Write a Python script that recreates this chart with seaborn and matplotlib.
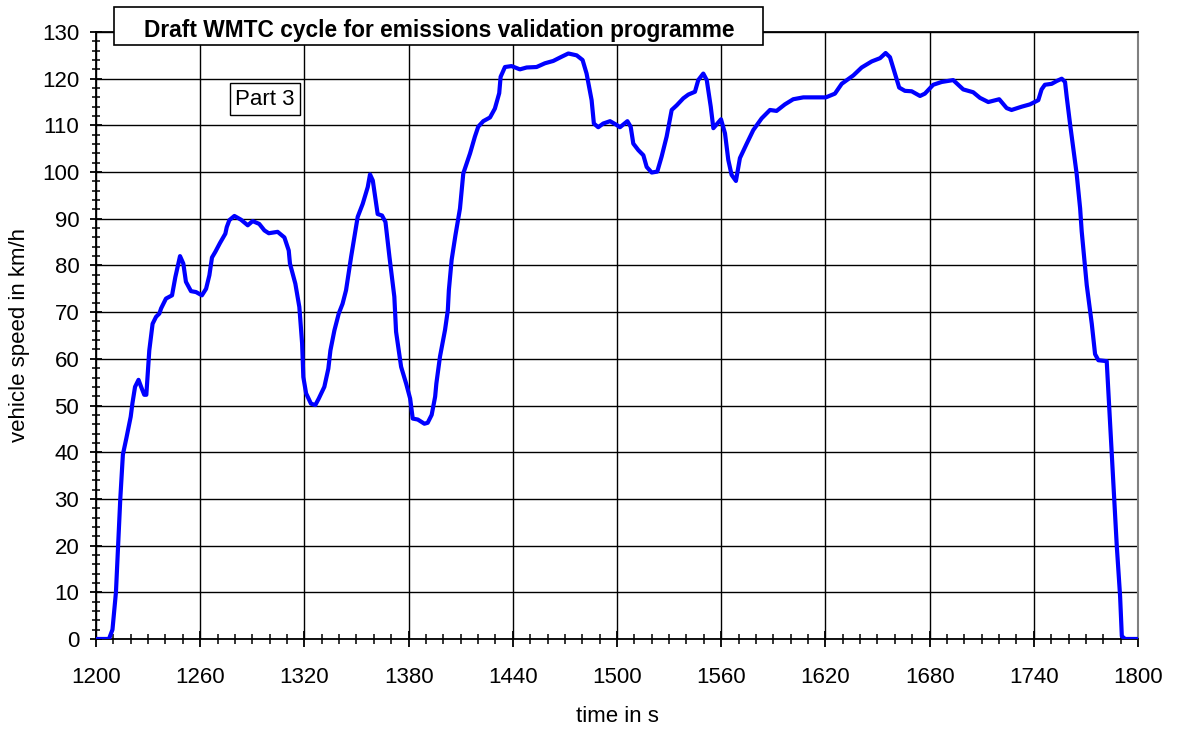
"""
WMTC draft cycle, part 3 - vehicle speed over time.
"""

import matplotlib.pyplot as plt
import matplotlib.patches as mpatches
from matplotlib import font_manager
from matplotlib.ticker import MultipleLocator
import pandas as pd
import seaborn as sns

# ---------------------------------------------------------------------------
# Data
# ---------------------------------------------------------------------------
time_s = [
    1200, 1207.5, 1209.5, 1211.5, 1213, 1214, 1215.5, 1217.5, 1220, 1221,
    1222.5, 1224.5, 1226, 1227.8, 1229, 1230.7, 1232.6, 1234.6, 1236.5, 1237.5,
    1240.3, 1243.8, 1245.7, 1248.4, 1250.3, 1251.8, 1254.7, 1257.6, 1261, 1263.4,
    1265.3, 1266.8, 1268.7, 1271.4, 1274.5, 1275.3, 1276.8, 1279.7, 1283.5, 1287.4,
    1290.2, 1294, 1297, 1299.5, 1304.6, 1308.5, 1311, 1311.7, 1314.8, 1317.1,
    1318.7, 1319.4, 1321, 1323.8, 1326.3, 1328.3, 1331.5, 1333.8, 1335, 1337.3,
    1339.8, 1342, 1344, 1346.9, 1350.7, 1353.6, 1356.5, 1357.8, 1359.4, 1362.2,
    1364.7, 1366.7, 1369, 1371.8, 1372.8, 1375.7, 1378.6, 1380.9, 1382.4, 1385.3,
    1389.1, 1391, 1393.3, 1395.3, 1396, 1398.1, 1401, 1402.6, 1403.2, 1404.8,
    1407, 1409.6, 1411.5, 1415.4, 1418.2, 1420.1, 1423, 1426.9, 1429.7, 1432.2,
    1433, 1435.5, 1439.3, 1444.1, 1448, 1453.7, 1458.5, 1463.3, 1468.1, 1472,
    1476.8, 1480.2, 1482.5, 1485.4, 1486.7, 1489.2, 1492.1, 1496, 1499.8, 1501.7,
    1506, 1507.9, 1509.4, 1512.3, 1515.2, 1517.1, 1520, 1523.2, 1525.7, 1528.6,
    1531.5, 1534.4, 1538.2, 1541.1, 1544.9, 1546.8, 1549.7, 1551.7, 1554, 1555.5,
    1557.8, 1559.9, 1562.2, 1564.1, 1566, 1568.5, 1570.8, 1574.6, 1578.5, 1583.3,
    1588.1, 1591.9, 1596.7, 1601.5, 1607.3, 1614, 1620.3, 1625.5, 1629.4, 1636.1,
    1640.9, 1646.7, 1651.5, 1654.7, 1657.2, 1660.1, 1662.5, 1665.8, 1669.7, 1674.5,
    1677.3, 1682.1, 1687, 1693.6, 1699.4, 1705.1, 1709, 1713.8, 1720.1, 1724.4,
    1727.2, 1733, 1737.8, 1742.6, 1744.5, 1746.4, 1750.3, 1753.2, 1756.1, 1758,
    1759, 1760.9, 1764.7, 1766.7, 1767.6, 1770.5, 1773.4, 1775.3, 1777.2, 1782,
    1784.9, 1787.8, 1789.7, 1790.7, 1792.6, 1800,
]
speed_kmh = [
    0, 0, 2, 10, 22, 30, 39.5, 43, 47.6, 50.5,
    54, 55.5, 54, 52.3, 52.3, 61.8, 67.5, 69, 69.7, 70.8,
    72.9, 73.6, 77.5, 82, 80.4, 76.5, 74.5, 74.3, 73.6, 75,
    77.9, 81.7, 82.9, 84.8, 86.8, 88.2, 89.7, 90.6, 89.8, 88.6,
    89.5, 88.9, 87.5, 86.9, 87.2, 86, 83.2, 80.4, 76.1, 71.1,
    63.3, 56.1, 52.6, 50.4, 50.1, 51.5, 54, 57.9, 61.8, 66.1,
    69.7, 71.8, 74.7, 81.8, 90.4, 93.2, 96.8, 99.5, 98.2, 91,
    90.7, 89.3, 81.8, 73.3, 65.8, 58.3, 54.7, 51.5, 47.2, 47,
    46.1, 46.3, 48, 51.9, 54.7, 60.5, 66.2, 70.4, 74.7, 81.2,
    86.5, 92.2, 99.7, 104, 107.6, 109.7, 110.9, 111.7, 113.6, 116.9,
    120.4, 122.5, 122.7, 122, 122.4, 122.5, 123.3, 123.8, 124.7, 125.4,
    125, 124, 121.1, 115.4, 110.4, 109.6, 110.4, 110.9, 110.1, 109.6,
    110.9, 109.7, 106.1, 104.7, 103.6, 101.1, 99.9, 100.1, 103.3, 107.6,
    113.3, 114.3, 115.8, 116.6, 117.2, 119.7, 121.1, 119.7, 114, 109.4,
    110.4, 111.3, 108.3, 102.6, 99.4, 98.1, 103, 106, 109, 111.5,
    113.3, 113.1, 114.5, 115.6, 116, 116, 116, 116.8, 118.9, 120.7,
    122.4, 123.7, 124.4, 125.5, 124.6, 121, 118.1, 117.4, 117.3, 116.3,
    116.8, 118.7, 119.3, 119.7, 117.7, 117.1, 115.9, 115, 115.6, 113.7,
    113.3, 114, 114.5, 115.4, 117.7, 118.7, 118.9, 119.5, 120, 119.3,
    116, 110.3, 99.6, 92.2, 87.3, 75.8, 67.5, 61, 59.7, 59.5,
    39.6, 19.9, 9.2, 0.6, 0, 0,
]

TITLE = "Draft WMTC cycle for emissions validation programme"
PART_LABEL = "Part 3"

# ---------------------------------------------------------------------------
# Style
# ---------------------------------------------------------------------------
sns.set_theme(style="white")
plt.rcParams["font.family"] = ["Liberation Sans", "DejaVu Sans"]
for key in ["text.color", "axes.labelcolor", "xtick.color", "ytick.color"]:
    plt.rcParams[key] = "black"
FONT_SIZE = 16

# pick the normal-width bold face explicitly (avoid "Narrow" variant)
title_font = font_manager.FontProperties(family="Liberation Sans",
                                         weight="bold", size=16.4)
for f in font_manager.fontManager.ttflist:
    if f.fname.endswith("LiberationSans-Bold.ttf"):
        title_font = font_manager.FontProperties(fname=f.fname, size=16.4)
        break

df = pd.DataFrame({"time": time_s, "speed": speed_kmh})

fig = plt.figure(figsize=(11.79, 7.29), dpi=100)
ax = fig.add_axes([0.0814, 0.1235, 0.8838, 0.8326])

sns.lineplot(data=df, x="time", y="speed", ax=ax, color="#0000FF",
             linewidth=3.0, estimator=None, sort=False, zorder=3)

ax.set_xlim(1200, 1800)
ax.set_ylim(0, 130)
ax.xaxis.set_major_locator(MultipleLocator(60))
ax.xaxis.set_minor_locator(MultipleLocator(10))
ax.yaxis.set_major_locator(MultipleLocator(10))
ax.yaxis.set_minor_locator(MultipleLocator(2))

ax.grid(True, which="major", color="black", linewidth=1.0)
ax.set_axisbelow(True)

for side in ["left", "bottom", "top"]:
    ax.spines[side].set_color("black")
    ax.spines[side].set_linewidth(1.3)
ax.spines["right"].set_color("#808080")
ax.spines["right"].set_linewidth(1.5)

ax.tick_params(axis="x", which="major", direction="inout", length=11, width=1.3,
               labelsize=FONT_SIZE, pad=15, bottom=True)
ax.tick_params(axis="x", which="minor", direction="inout", length=7, width=1.1,
               bottom=True)
ax.tick_params(axis="y", which="major", direction="inout", length=9, width=1.3,
               labelsize=FONT_SIZE, pad=7.5, left=True)
ax.tick_params(axis="y", which="minor", direction="inout", length=6, width=1.1,
               left=True)

ax.set_xlabel("time in s", fontsize=FONT_SIZE)
ax.set_ylabel("vehicle speed in km/h", fontsize=FONT_SIZE)
ax.xaxis.set_label_coords(0.5, -0.110)
ax.yaxis.set_label_coords(-0.063, 0.5)

# "Part 3" box inside the plot
ax.text(0.1622, 0.889, PART_LABEL, transform=ax.transAxes, fontsize=FONT_SIZE,
        ha="center", va="center", zorder=5,
        bbox=dict(boxstyle="square,pad=0.25", fc="white", ec="black", lw=1.0))

# Title box overlapping the top of the plot
fig.add_artist(mpatches.Rectangle((0.0967, 0.9383), 0.5505, 0.0521,
                                  transform=fig.transFigure, fc="white",
                                  ec="black", lw=1.2, zorder=5))
fig.text(0.3728, 0.9488, TITLE, ha="center", va="baseline",
         fontproperties=title_font, zorder=6)

fig.savefig("out.png", dpi=100)
